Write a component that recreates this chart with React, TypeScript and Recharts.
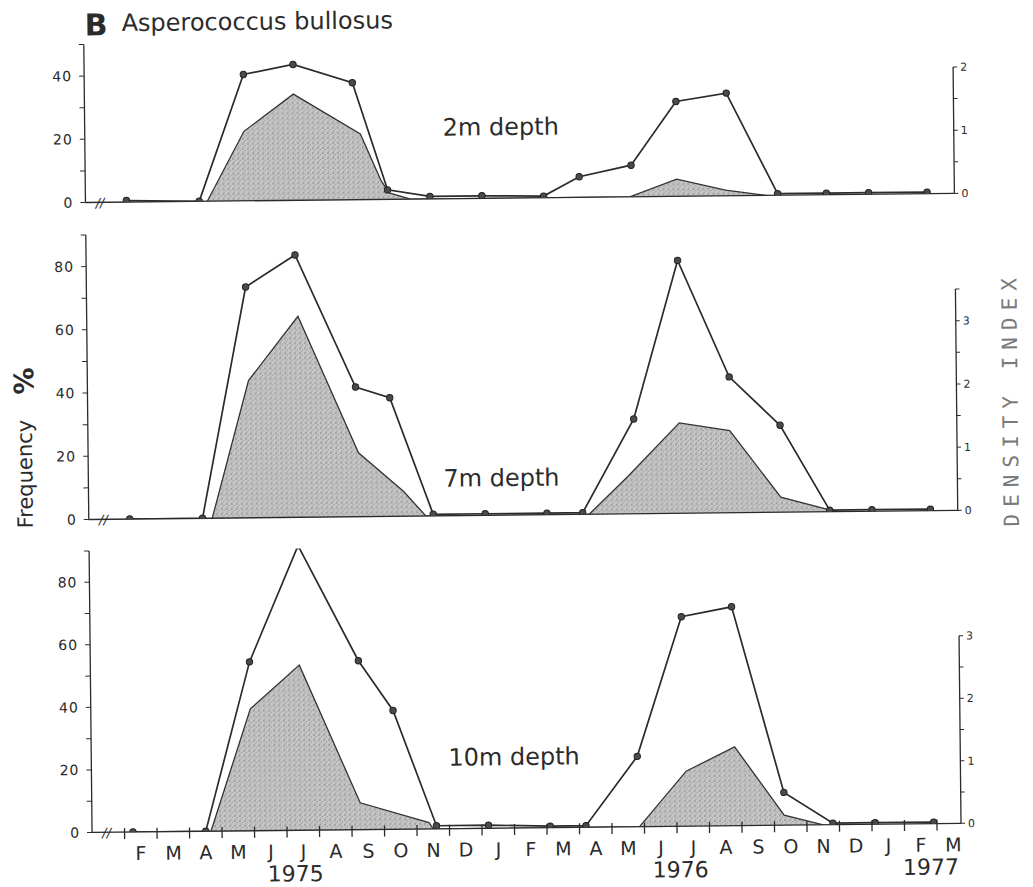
import { ComposedChart, Line, Area, XAxis, YAxis, ReferenceLine, ReferenceDot } from "recharts";

// sampling dates, in months from 1 Jan 1975
const sampleMonths = [1.26, 3.5, 4.9, 6.43, 8.25, 9.3, 10.6, 12.2, 14.1, 15.2, 16.8, 18.2, 19.75, 21.3, 22.8, 24.1, 25.9];

// frequency %
const freq2m = [0.5, 0, 40, 43, 37, 3, 0.8, 0.8, 0.5, 6.5, 10, 30, 32.5, 0.5, 0.5, 0.5, 0.5];
const freq7m = [0, 0, 73, 83, 41, 37.5, 0.5, 0.5, 0.5, 0.5, 30, 80, 43, 27.5, 0.5, 0.5, 0.5];
const freq10m = [0, 0, 54, 91, 54, 38, 1, 1, 0.5, 0.5, 22.5, 67, 70, 10.5, 0.5, 0.5, 0.5];

// density index (shaded)
const dens2mMonths = [3.75, 4.9, 6.43, 8.48, 9.1, 9.35, 10.0, 16.75, 18.2, 19.7, 20.95];
const dens2m = [0, 1.1, 1.68, 1.04, 0.3, 0.1, 0, 0, 0.27, 0.09, 0];
const dens7mMonths = [3.8, 4.96, 6.5, 8.32, 9.7, 10.37, 15.4, 16.6, 18.2, 19.75, 21.3, 23.0];
const dens7m = [0, 2.17, 3.18, 1.01, 0.39, 0, 0, 0.59, 1.43, 1.3, 0.24, 0];
const dens10mMonths = [3.66, 4.91, 6.43, 8.26, 10.37, 10.5, 16.85, 18.3, 19.8, 21.3, 22.5];
const dens10m = [0, 1.95, 2.64, 0.43, 0.1, 0, 0, 0.88, 1.26, 0.16, 0];

const monthLetters = ["F", "M", "A", "M", "J", "J", "A", "S", "O", "N", "D", "J", "F", "M", "A", "M", "J", "J", "A", "S", "O", "N", "D", "J", "F", "M"];
const monthCenters = monthLetters.map((_, i) => i + 1.5);
const monthStarts = monthLetters.map((_, i) => i + 1);
const yearLabels = ["1975", "1976", "1977"];
const yearMonths = [6.25, 18.1, 25.8];

const X_MAX = 26.74;
const BREAK_AT = 0.45;
const INK = "#2b2b2b";
const FONT = "DejaVu Sans";

type PanelProps = {
	id: string;
	top: number;
	marginTop: number;
	plotHeight: number;
	freq: number[];
	densMonths: number[];
	dens: number[];
	yMax: number;
	dMax: number;
	dTicks: number[];
	dTop: number;
	months?: boolean;
};

// one bottom axis carries month boundary marks, month letters and years
function TimeTick(props: any) {
	const { x, y, payload } = props;
	const v: number = payload.value;
	if (Number.isInteger(v)) {
		return <line x1={x} x2={x} y1={y - 4} y2={y + 7} stroke={INK} strokeWidth={1.3} />;
	}
	const c = monthCenters.indexOf(v);
	if (c >= 0) {
		return (
			<text x={x} y={y + 28} textAnchor="middle" fontSize={19} fontFamily={FONT} fill={INK}>
				{monthLetters[c]}
			</text>
		);
	}
	const yi = yearMonths.indexOf(v);
	return (
		<text x={x} y={y + 51} textAnchor="middle" fontSize={22} fontFamily={FONT} fill={INK}>
			{yearLabels[yi]}
		</text>
	);
}

function Panel({ id, top, marginTop, plotHeight, freq, densMonths, dens, yMax, dMax, dTicks, dTop, months }: PanelProps) {
	const freqData = sampleMonths.map((m, i) => ({ m, f: freq[i] }));
	const densData = densMonths.map((m, i) => ({ m, d: dens[i] }));
	const yTicks: number[] = [];
	for (let v = 0; v <= yMax; v += 10) yTicks.push(v);
	const axisH = months ? 62 : 2;
	const bottom = months ? 0 : 12;
	const height = marginTop + plotHeight + axisH + bottom;

	return (
		<div style={{ position: "absolute", left: 0, top }}>
			<ComposedChart width={1033} height={height} margin={{ top: marginTop, right: 0, bottom, left: 0 }}>
				<defs>
					<pattern id={`stip-${id}`} width={5} height={5} patternUnits="userSpaceOnUse">
						<rect width={5} height={5} fill="#c6c6c6" />
						<circle cx={1} cy={1} r={0.75} fill="#6e6e6e" />
						<circle cx={3.5} cy={2.5} r={0.6} fill="#8c8c8c" />
						<circle cx={2} cy={4} r={0.55} fill="#7a7a7a" />
					</pattern>
				</defs>
				<XAxis
					xAxisId="m"
					type="number"
					dataKey="m"
					domain={[0, X_MAX]}
					allowDataOverflow
					ticks={months ? [...monthStarts, ...monthCenters, ...yearMonths] : []}
					interval={0}
					tick={months ? <TimeTick /> : false}
					tickLine={false}
					tickSize={0}
					tickMargin={0}
					height={axisH}
					axisLine={{ stroke: INK, strokeWidth: 1.3 }}
				/>
				<YAxis
					yAxisId="f"
					width={88}
					domain={[0, yMax]}
					allowDataOverflow
					ticks={yTicks}
					interval={0}
					tickFormatter={(v: number) => (v % 20 === 0 ? String(v) : "")}
					tickSize={5}
					tickMargin={7}
					tick={{ fontSize: 14, fill: INK, fontFamily: FONT, letterSpacing: 1 }}
					tickLine={{ stroke: INK }}
					axisLine={{ stroke: INK, strokeWidth: 1.3 }}
				/>
				<YAxis
					yAxisId="d"
					orientation="right"
					width={76}
					domain={[0, dMax]}
					allowDataOverflow
					ticks={dTicks}
					interval={0}
					tickFormatter={(v: number) => (Number.isInteger(v) ? String(v) : "")}
					tickSize={4}
					tickMargin={3}
					tick={{ fontSize: 11, fill: INK, fontFamily: FONT }}
					tickLine={{ stroke: INK }}
					axisLine={false}
				/>
				<ReferenceLine
					xAxisId="m"
					yAxisId="d"
					segment={[{ x: X_MAX, y: 0 }, { x: X_MAX, y: dTop }]}
					stroke={INK}
					strokeWidth={1.3}
					ifOverflow="visible"
				/>
				<Area
					xAxisId="m"
					yAxisId="d"
					data={densData}
					dataKey="d"
					type="linear"
					baseValue={0}
					fill={`url(#stip-${id})`}
					fillOpacity={1}
					stroke="#333"
					strokeWidth={1.3}
					isAnimationActive={false}
				/>
				<Line
					xAxisId="m"
					yAxisId="f"
					data={freqData}
					dataKey="f"
					type="linear"
					stroke={INK}
					strokeWidth={1.7}
					dot={{ r: 3.2, fill: "#4a4a4a", stroke: "#222", strokeWidth: 1 }}
					isAnimationActive={false}
				/>
				<ReferenceDot
					xAxisId="m"
					yAxisId="f"
					x={BREAK_AT}
					y={0}
					r={0}
					ifOverflow="visible"
					shape={(p: any) => (
						<text x={p.cx} y={p.cy + 5} textAnchor="middle" fontSize={13} fontStyle="italic" fontFamily={FONT} fill={INK}>
							//
						</text>
					)}
				/>
			</ComposedChart>
		</div>
	);
}

export default function App() {
	return (
		<div
			style={{
				position: "absolute",
				left: 0,
				top: 0,
				width: 1033,
				height: 887,
				background: "#fff",
				transform: "rotate(-0.6deg)",
				transformOrigin: "516px 443px",
			}}
		>
			<Panel id="p1" top={0} marginTop={40} plotHeight={158} freq={freq2m} densMonths={dens2mMonths} dens={dens2m} yMax={50} dMax={2.5} dTicks={[0, 0.5, 1, 1.5, 2]} dTop={2} />
			<Panel id="p2" top={200} marginTop={30.5} plotHeight={284.5} freq={freq7m} densMonths={dens7mMonths} dens={dens7m} yMax={90} dMax={4.5} dTicks={[0, 0.5, 1, 1.5, 2, 2.5, 3, 3.5]} dTop={3.5} />
			<Panel id="p3" top={517} marginTop={29.5} plotHeight={281.5} freq={freq10m} densMonths={dens10mMonths} dens={dens10m} yMax={90} dMax={4.5} dTicks={[0, 0.5, 1, 1.5, 2, 2.5, 3]} dTop={3} months />
			<svg width={1033} height={887} style={{ position: "absolute", left: 0, top: 0, pointerEvents: "none" }}>
				<text x={89} y={31} fontFamily={FONT} fontWeight="bold" fontSize={30} fill={INK}>
					B
				</text>
				<text x={126} y={27} fontFamily={FONT} fontSize={24} fill={INK}>
					Asperococcus bullosus
				</text>
				<text x={446} y={135} fontFamily={FONT} fontSize={24} fill={INK}>
					2m depth
				</text>
				<text x={443} y={486} fontFamily={FONT} fontSize={24} fill={INK}>
					7m depth
				</text>
				<text x={445} y={765} fontFamily={FONT} fontSize={24} fill={INK}>
					10m depth
				</text>
				<text x={0} y={0} transform="translate(32 469) rotate(-90)" textAnchor="middle" fontFamily={FONT} fontSize={21} fill={INK}>
					Frequency
				</text>
				<text x={0} y={0} transform="translate(34 376) rotate(-90)" textAnchor="middle" fontFamily={FONT} fontWeight="bold" fontSize={27} fill={INK}>
					%
				</text>
				<text x={0} y={0} transform="translate(1018 404) rotate(-90)" textAnchor="middle" fontFamily="DejaVu Sans Mono" fontSize={21} letterSpacing={7} fill="#7a7a7a">
					DENSITY INDEX
				</text>
			</svg>
		</div>
	);
}
